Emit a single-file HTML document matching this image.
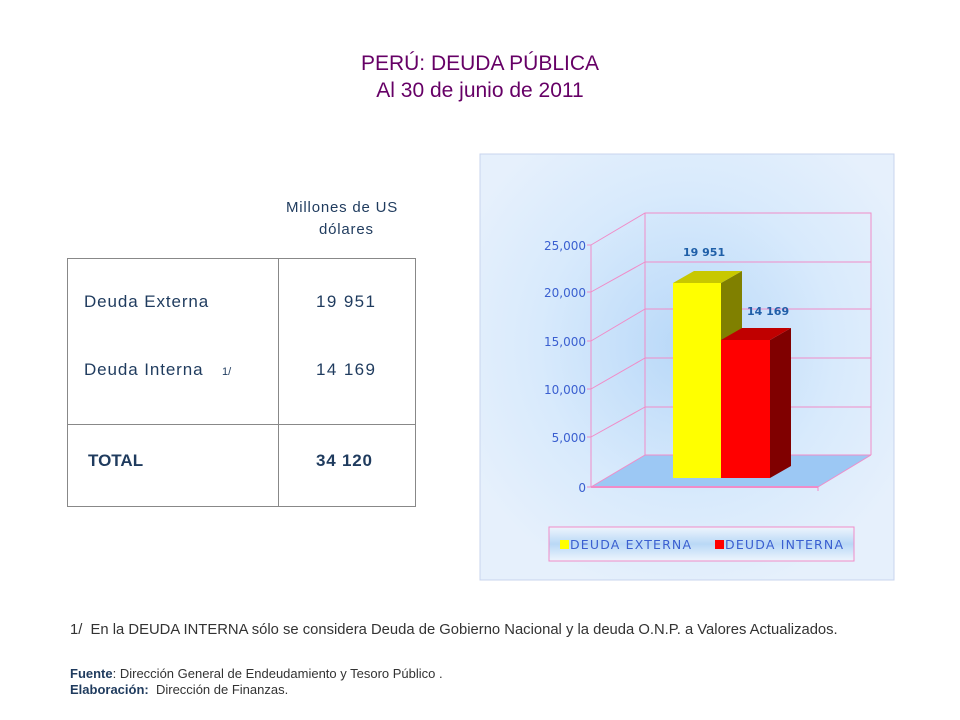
<!DOCTYPE html>
<html><head><meta charset="utf-8"><style>
body{margin:0;width:960px;height:720px;background:#fff;position:relative;overflow:hidden;font-family:"Liberation Sans",sans-serif}
.a{position:absolute;white-space:nowrap}
.t{color:#660066;font-size:21px;text-align:center;width:960px;left:0}
.tb{color:#1f3b5e;font-size:17px;letter-spacing:0.9px}
</style></head><body>
<div class="a t" style="top:52px">PERÚ: DEUDA PÚBLICA</div>
<div class="a t" style="top:79px">Al 30 de junio de 2011</div>
<div class="a tb" style="left:286px;top:199px;font-size:15px;letter-spacing:0.8px">Millones de US</div>
<div class="a tb" style="left:319px;top:221px;font-size:15px;letter-spacing:0.8px">dólares</div>
<div class="a" style="left:67px;top:258px;width:347px;height:247px;border:1px solid #888"></div>
<div class="a" style="left:278px;top:258px;width:1px;height:248px;background:#888"></div>
<div class="a" style="left:67px;top:424px;width:348px;height:1px;background:#888"></div>
<div class="a tb" style="left:84px;top:292px">Deuda Externa</div>
<div class="a tb" style="left:316px;top:292px;letter-spacing:1.4px">19 951</div>
<div class="a tb" style="left:84px;top:360px">Deuda Interna</div>
<div class="a tb" style="left:222px;top:366px;font-size:11px;letter-spacing:0">1/</div>
<div class="a tb" style="left:316px;top:360px;letter-spacing:1.4px">14 169</div>
<div class="a tb" style="left:88px;top:451px;font-weight:bold;letter-spacing:0">TOTAL</div>
<div class="a tb" style="left:316px;top:451px;font-weight:bold;letter-spacing:0.8px">34 120</div>
<svg class="a" style="left:0;top:0" width="960" height="720">
<defs>
<radialGradient id="g" cx="0.5" cy="0.45" r="0.6"><stop offset="0" stop-color="#b8d8f8"/><stop offset="0.6" stop-color="#d8eafc"/><stop offset="1" stop-color="#e6f0fc"/></radialGradient>
<linearGradient id="lg" x1="0" y1="0" x2="0" y2="1"><stop offset="0" stop-color="#eef5fd"/><stop offset="0.5" stop-color="#b9d8f6"/><stop offset="1" stop-color="#eef5fd"/></linearGradient>
</defs>
<rect x="480" y="154" width="414" height="426" fill="url(#g)" stroke="#c8d4ee"/>
<polygon points="591,487 645,455 871,455 818,487" fill="#9cc8f4"/>
<g stroke="#f08cc8" stroke-width="1" fill="none">
<polyline points="591,245 645,213 871,213 871,455"/>
<line x1="645" y1="213" x2="645" y2="455"/>
<line x1="591" y1="245" x2="591" y2="487"/>
<line x1="591" y1="487" x2="645" y2="455"/>
<line x1="645" y1="455" x2="871" y2="455"/>
<line x1="871" y1="455" x2="818" y2="487"/>
<line x1="591" y1="487" x2="818" y2="487" stroke-width="2"/>
<line x1="818" y1="487" x2="818" y2="491"/>
<g><line x1="591" y1="437" x2="645" y2="407"/><line x1="645" y1="407" x2="871" y2="407"/>
<line x1="591" y1="389" x2="645" y2="358"/><line x1="645" y1="358" x2="871" y2="358"/>
<line x1="591" y1="341" x2="645" y2="309"/><line x1="645" y1="309" x2="871" y2="309"/>
<line x1="591" y1="292" x2="645" y2="262"/><line x1="645" y1="262" x2="871" y2="262"/>
<line x1="587" y1="245" x2="591" y2="245"/><line x1="587" y1="292" x2="591" y2="292"/><line x1="587" y1="341" x2="591" y2="341"/><line x1="587" y1="389" x2="591" y2="389"/><line x1="587" y1="437" x2="591" y2="437"/><line x1="587" y1="487" x2="591" y2="487"/></g>
</g>
<polygon points="721,283 742,271 742,466 721,478" fill="#808000"/>
<polygon points="673,283 694,271 742,271 721,283" fill="#c8c800"/>
<rect x="673" y="283" width="48" height="195" fill="#ffff00"/>
<polygon points="770,340 791,328 791,466 770,478" fill="#800000"/>
<polygon points="721,340 742,328 791,328 770,340" fill="#c00000"/>
<rect x="721" y="340" width="49" height="138" fill="#ff0000"/>
<g font-family="DejaVu Sans,sans-serif" font-size="12" fill="#3a5fd0" text-anchor="end">
<text x="586" y="250">25,000</text><text x="586" y="297">20,000</text><text x="586" y="346">15,000</text><text x="586" y="394">10,000</text><text x="586" y="442">5,000</text><text x="586" y="492">0</text></g>
<g font-family="DejaVu Sans,sans-serif" font-size="11" font-weight="bold" fill="#1f5fa8">
<text x="683" y="256">19 951</text><text x="747" y="315">14 169</text></g>
<rect x="549" y="527" width="305" height="34" fill="url(#lg)" stroke="#f08cc8"/>
<rect x="560" y="540" width="9" height="9" fill="#ffff00"/>
<rect x="715" y="540" width="9" height="9" fill="#ff0000"/>
<g font-family="DejaVu Sans,sans-serif" font-size="12.5" fill="#3a5fd0"><text x="570" y="549" textLength="121">DEUDA EXTERNA</text><text x="725" y="549" textLength="118">DEUDA INTERNA</text></g>
</svg>
<div class="a" style="left:70px;top:622px;font-size:14.8px;color:#333">1/&nbsp; En la DEUDA INTERNA sólo se considera Deuda de Gobierno Nacional y la deuda O.N.P. a Valores Actualizados.</div>
<div class="a" style="left:70px;top:666px;font-size:13px;color:#333"><b style="color:#1f3b5e">Fuente</b>: Dirección General de Endeudamiento y Tesoro Público .</div>
<div class="a" style="left:70px;top:682px;font-size:13px;color:#333"><b style="color:#1f3b5e">Elaboración:</b>&nbsp; Dirección de Finanzas.</div>
</body></html>
